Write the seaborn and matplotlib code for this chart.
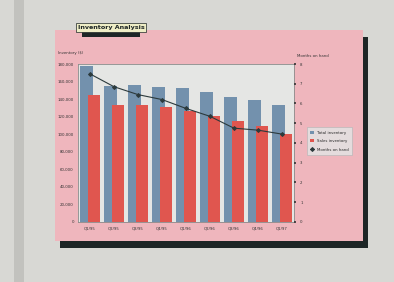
import numpy as np
import pandas as pd
import matplotlib
matplotlib.use('agg')
import matplotlib.pyplot as plt
from matplotlib.patches import Rectangle
import seaborn as sns

# data
periods = ["Q1/95", "Q2/95", "Q3/95", "Q4/95", "Q1/96", "Q2/96", "Q3/96", "Q4/96", "Q1/97"]
total_inventory = [178300, 155000, 156200, 153500, 153100, 148200, 142900, 138700, 133000]
sales_inventory = [144800, 133300, 133300, 130700, 126900, 120800, 115400, 109300, 100200]
months_on_hand = [7.5, 6.85, 6.45, 6.2, 5.75, 5.35, 4.75, 4.65, 4.45]
left_ticks = [0, 20000, 40000, 60000, 80000, 100000, 120000, 140000, 160000, 180000]

sns.set_style("white")
plt.rcParams['font.family'] = ['DejaVu Sans']

fig = plt.figure(figsize=(3.94, 2.82), dpi=100)
fig.patch.set_facecolor('#d8d8d4')

# photo edge shadow on the left
fig.patches.append(Rectangle((0.035, 0.0), 0.025, 1.0, transform=fig.transFigure,
                             facecolor='#a8a8a5', alpha=0.45, edgecolor='none', zorder=0))

# slide panel with its drop shadow
fig.patches.append(Rectangle((0.152, 0.120), 0.782, 0.748, transform=fig.transFigure,
                             facecolor='#1e2626', edgecolor='none', zorder=1))
fig.patches.append(Rectangle((0.1396, 0.145), 0.782, 0.748, transform=fig.transFigure,
                             facecolor='#efb6bd', edgecolor='none', zorder=2))

df = pd.DataFrame({
    'pos': np.arange(len(periods)),
    'period': periods,
    'total': total_inventory,
    'sales': sales_inventory,
    'months': months_on_hand,
})

ax = fig.add_axes([0.198, 0.213, 0.548, 0.560])
ax.set_zorder(3)
ax.set_facecolor('#e5e6e4')

sns.barplot(x=df['pos'] - 0.13, y=df['total'], native_scale=True, width=0.55,
            color='#7391ad', saturation=1, linewidth=0, ax=ax, label='Total inventory')
sns.barplot(x=df['pos'] + 0.16, y=df['sales'], native_scale=True, width=0.5,
            color='#e0564f', saturation=1, linewidth=0, ax=ax, label='Sales inventory')
if ax.legend_ is not None:
    ax.legend_.remove()

ax.set_xlim(-0.5, len(periods) - 0.5)
ax.set_ylim(0, 180000)
ax.set_yticks(left_ticks)
ax.set_yticklabels([f"{v:,}" for v in left_ticks])
ax.set_xticks(df['pos'])
ax.set_xticklabels(periods)
ax.set_xlabel('')
ax.set_ylabel('')
ax.tick_params(axis='both', labelsize=2.8, length=0, pad=3, colors='#333333')
for s in ax.spines.values():
    s.set_color('#8a8a8a')
    s.set_linewidth(0.6)

ax2 = ax.twinx()
sns.lineplot(x=df['pos'], y=df['months'], ax=ax2, color='#2c3a3c', linewidth=0.8,
             marker='D', markersize=2.0, markeredgecolor='#2c3a3c', label='Months on hand')
ax2.set_ylim(0, 8)
ax2.set_yticks(range(0, 9))
ax2.set_ylabel('')
ax2.tick_params(axis='y', labelsize=2.8, length=1.5, width=1.2, pad=3, colors='#333333')
ax2.legend_.remove()
for s in ax2.spines.values():
    s.set_visible(False)

fig.text(0.147, 0.808, 'Inventory ($)', fontsize=2.8, color='#333333')
fig.text(0.754, 0.798, 'Months on hand', fontsize=2.8, color='#333333')

# title box with its shadow
fig.patches.append(Rectangle((0.208, 0.868), 0.147, 0.033, transform=fig.transFigure,
                             facecolor='#1e2626', edgecolor='none', zorder=4))
fig.text(0.197, 0.903, 'Inventory Analysis', fontsize=4.6, fontweight='bold',
         color='#1e2626', va='center', ha='left', zorder=5,
         bbox=dict(boxstyle='square,pad=0.3', facecolor='#efeec6', edgecolor='#1e2626', linewidth=0.5))

h1, l1 = ax.get_legend_handles_labels()
h2, l2 = ax2.get_legend_handles_labels()
leg = fig.legend(h1 + h2, l1 + l2, loc='upper left', bbox_to_anchor=(0.775, 0.555),
                 fontsize=2.8, frameon=True, fancybox=False, borderpad=0.8,
                 labelspacing=1.2, handlelength=1.0, handleheight=0.8)
leg.get_frame().set_facecolor('#e2e6e6')
leg.get_frame().set_edgecolor('#b0b4b4')
leg.get_frame().set_linewidth(0.5)
leg.set_zorder(6)

fig.savefig('out.png', dpi=100)
